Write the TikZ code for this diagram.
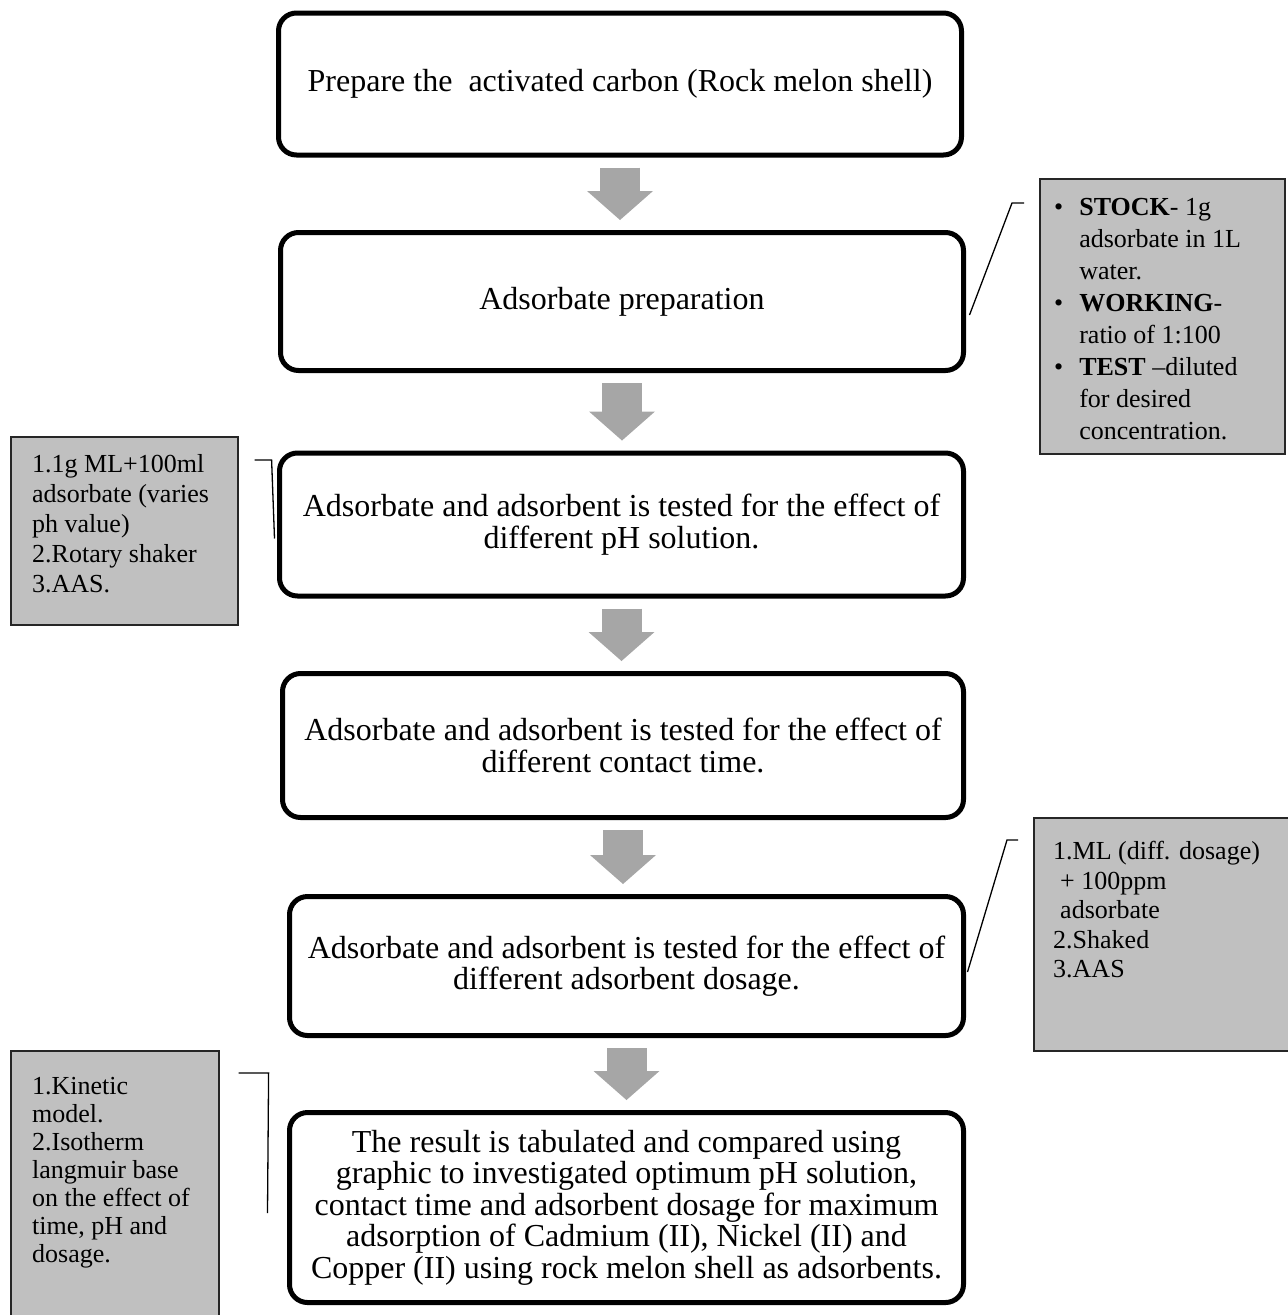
\documentclass[tikz,border=0pt]{standalone}
\usepackage{fontspec}
\setmainfont{Liberation Serif}
\usepackage{xcolor}
\usepackage{tikz}
\usetikzlibrary{arrows.meta,calc}
\definecolor{flowgray}{HTML}{A6A6A6}
\definecolor{notegray}{HTML}{C0C0C0}
\tikzset{
  stepbox/.style={rectangle, rounded corners=18pt, draw=black, line width=5pt,
                  fill=white, align=center, inner sep=0pt,
                  font=\fontsize{32}{31.5}\selectfont},
  notebox/.style={rectangle, draw=black!85, line width=1.6pt, fill=notegray,
                  anchor=north west, inner sep=0pt},
  notetxt/.style={anchor=north west, align=left, inner sep=0pt},
  flow/.style={draw=flowgray, line width=40pt,
               -{Triangle[width=66pt,length=29pt,line width=0pt]},
               shorten <=10pt, shorten >=10pt},
  leader/.style={draw=black, line width=1.3pt}
}

\begin{document}
\begin{tikzpicture}[x=1pt,y=-1pt]
  \useasboundingbox (0,0) rectangle (1288,1315);

  \node[stepbox, minimum width=683, minimum height=142] (prep) at (620,84)
    {Prepare the\ \ activated carbon (Rock melon shell)};
  \node[stepbox, minimum width=683, minimum height=138] (adsprep) at (622,301.5)
    {Adsorbate preparation};
  \node[stepbox, minimum width=684, minimum height=143] (phtest) at (621.5,524.5)
    {Adsorbate and adsorbent is tested for the effect of\\ different pH solution.};
  \node[stepbox, minimum width=681, minimum height=144] (timetest) at (623,745.5)
    {Adsorbate and adsorbent is tested for the effect of\\ different contact time.};
  \node[stepbox, minimum width=674, minimum height=139] (dosetest) at (626.5,966)
    {Adsorbate and adsorbent is tested for the effect of\\ different adsorbent dosage.};
  \node[stepbox, minimum width=674, minimum height=190] (result) at (626.5,1207.5)
    {The result is tabulated and compared using\\
     graphic to investigated optimum pH solution,\\
     contact time and adsorbent dosage for maximum\\
     adsorption of Cadmium (II), Nickel (II) and\\
     Copper (II) using rock melon shell as adsorbents.};

  \foreach \a/\b in {prep/adsprep, adsprep/phtest, phtest/timetest,
                     timetest/dosetest, dosetest/result}
    \draw[flow] (\a.south) -- (\a.south |- \b.north);

  \node[notebox, minimum width=245, minimum height=275] (stocknote) at (1039,178) {};
  \node[notetxt, font=\fontsize{26}{32}\selectfont] (stocktxt)
    at ([xshift=15pt,yshift=-14.5pt]stocknote.north west)
    {\begin{tabular}{@{}l@{\hspace{16pt}}l@{}}
       \textbullet & \textbf{STOCK}- 1g\\
                   & adsorbate in 1L\\
                   & water.\\
       \textbullet & \textbf{WORKING}-\\
                   & ratio of 1:100\\
       \textbullet & \textbf{TEST} –diluted\\
                   & for desired\\
                   & concentration.
     \end{tabular}};

  \node[notebox, minimum width=227, minimum height=188] (phnote) at (10,436) {};
  \node[notetxt, font=\fontsize{26}{30}\selectfont] (phtxt)
    at ([xshift=22pt,yshift=-18pt]phnote.north west)
    {1.1g ML+100ml\\ adsorbate (varies\\ ph value)\\ 2.Rotary shaker\\ 3.AAS.};

  \node[notebox, minimum width=262, minimum height=233] (dosenote) at (1033,817) {};
  \node[notetxt, font=\fontsize{26}{29.5}\selectfont] (dosetxt)
    at ([xshift=20pt,yshift=-24pt]dosenote.north west)
    {1.ML (diff. dosage)\\ \hspace*{7pt}+ 100ppm\\ \hspace*{7pt}adsorbate\\ 2.Shaked\\ 3.AAS};

  \node[notebox, minimum width=208, minimum height=275] (resnote) at (10,1050) {};
  \node[notetxt, font=\fontsize{26}{28}\selectfont] (restxt)
    at ([xshift=22pt,yshift=-27pt]resnote.north west)
    {1.Kinetic\\ model.\\ 2.Isotherm\\ langmuir base\\ on the effect of\\ time, pH and\\ dosage.};

  \draw[leader] ([xshift=-15pt,yshift=-25pt]stocknote.north west) -- ++(-12,0)
    -- ([xshift=3.5pt,yshift=-13.5pt]adsprep.east);
  \draw[leader] ([xshift=16pt,yshift=-24pt]phnote.north east) -- ++(17,0)
    -- ([xshift=-2.5pt,yshift=-14pt]phtest.west);
  \draw[leader] ([xshift=-15pt,yshift=-23pt]dosenote.north west) -- ++(-11,0)
    -- ([xshift=1.5pt,yshift=-6pt]dosetest.east);
  \draw[leader] ([xshift=19pt,yshift=-23pt]resnote.north east) -- ++(30,0)
    -- ([xshift=-19.5pt,yshift=-5.5pt]result.west);
\end{tikzpicture}
\end{document}
